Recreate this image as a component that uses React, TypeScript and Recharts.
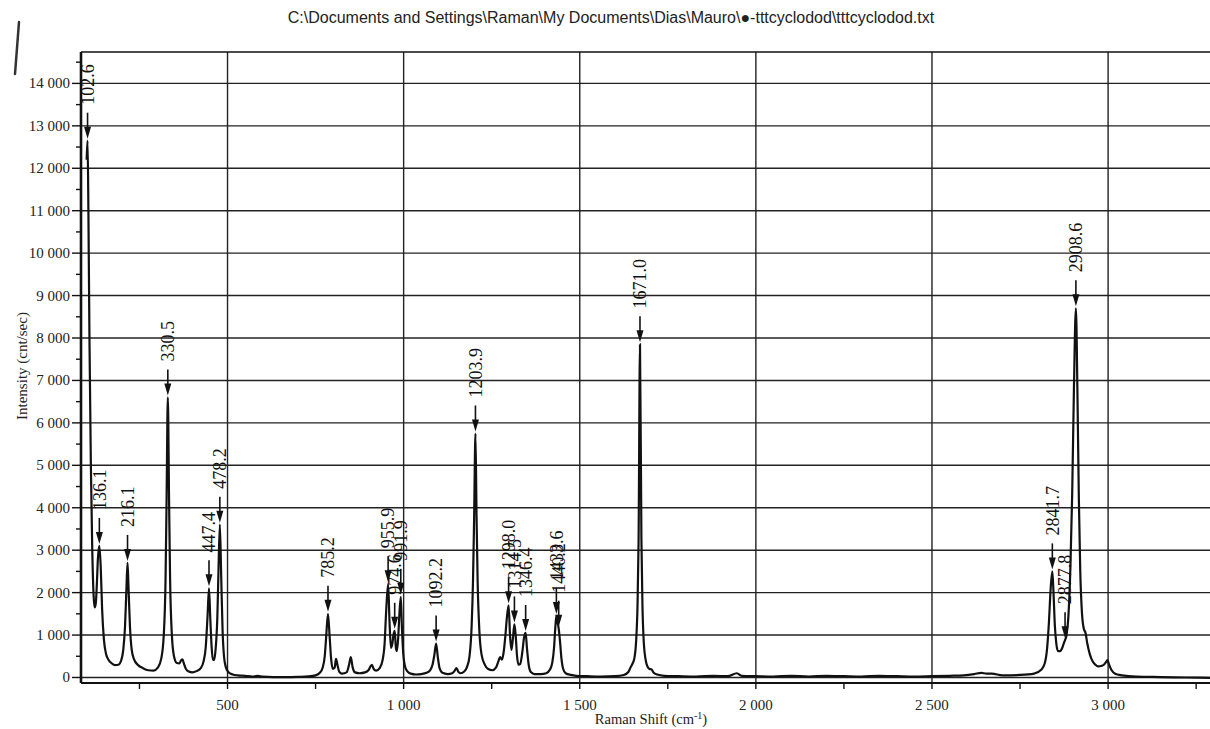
import React from 'react';
import {
  CartesianGrid,
  ComposedChart,
  Line,
  ReferenceLine,
  Scatter,
  XAxis,
  YAxis,
} from 'recharts';

// Raman spectrum (shift in cm-1, intensity in cnt/sec).
const shifts = [
  100, 102.6, 105, 108, 112, 116, 120, 123, 126, 129, 132, 136.1, 140, 144, 149, 155, 162, 170, 180, 190,
  198, 204, 209, 213, 216.1, 219, 223, 228, 235, 245, 260, 275, 290, 302, 312, 319, 324, 327, 330.5, 334,
  337, 342, 348, 356, 363, 368, 372, 376, 382, 390, 400, 412, 424, 432, 438, 443, 447.4, 451, 455, 459,
  462, 466, 471, 474, 478.2, 482, 486, 490, 495, 502, 515, 530, 550, 570, 585, 600, 630, 660, 700, 730,
  750, 762, 770, 776, 780, 785.2, 790, 794, 799, 804, 808, 812, 817, 825, 838, 845, 850, 855, 862, 875,
  890, 900, 906, 910, 915, 922, 932, 940, 946, 950, 955.9, 960, 964, 968, 971, 974.6, 978, 981, 985, 988,
  991.9, 995, 999, 1004, 1010, 1020, 1035, 1050, 1065, 1075, 1082, 1087, 1092.2, 1097, 1102, 1110, 1125, 1138, 1145, 1150,
  1155, 1162, 1172, 1180, 1187, 1193, 1197, 1200, 1203.9, 1207, 1210, 1215, 1221, 1230, 1240, 1252, 1262, 1269, 1274, 1279,
  1284, 1289, 1293, 1298.0, 1302, 1306, 1310, 1314.5, 1318, 1322, 1326, 1331, 1337, 1342, 1346.4, 1350, 1355, 1361, 1372, 1390,
  1405, 1415, 1422, 1427, 1430, 1433.6, 1437, 1440.2, 1444, 1448, 1453, 1460, 1475, 1490, 1520, 1560, 1600, 1625, 1638, 1645,
  1650, 1655, 1660, 1664, 1667, 1671.0, 1675, 1678, 1682, 1687, 1692, 1698, 1704, 1710, 1720, 1740, 1780, 1830, 1880, 1920,
  1946, 1960, 2000, 2050, 2100, 2150, 2200, 2250, 2300, 2350, 2400, 2450, 2500, 2550, 2590, 2620, 2640, 2655, 2670, 2700,
  2750, 2790, 2810, 2820, 2827, 2832, 2837, 2841.7, 2845, 2849, 2853, 2858, 2864, 2870, 2874, 2877.8, 2882, 2887, 2893, 2898,
  2903, 2908.6, 2913, 2917, 2921, 2926, 2931, 2936, 2941, 2948, 2956, 2964, 2972, 2980, 2988, 2994, 2998, 3003, 3010, 3020,
  3040, 3080, 3150, 3220, 3295,
];
const intensities = [
  12200, 12650, 11000, 8000, 5000, 3000, 1900, 1650, 1750, 2200, 2800, 3100, 2600, 1600, 900, 560, 420, 340, 290, 300,
  400, 650, 1200, 2100, 2700, 2100, 1200, 650, 420, 300, 220, 170, 160, 230, 450, 1000, 2300, 4200, 6600, 4200,
  2300, 1000, 500, 340, 330, 400, 430, 330, 200, 140, 120, 150, 220, 380, 700, 1400, 2100, 1400, 700, 420,
  410, 650, 1400, 2400, 3600, 2400, 1100, 500, 250, 130, 70, 50, 40, 20, 40, 20, 10, 10, 15, 25,
  50, 110, 230, 500, 950, 1500, 950, 450, 200, 230, 440, 300, 140, 90, 120, 300, 480, 250, 120, 100,
  120, 170, 260, 300, 200, 160, 220, 400, 800, 1500, 2200, 1300, 700, 800, 1000, 1100, 700, 620, 1000, 1500,
  1900, 1200, 550, 260, 150, 90, 70, 80, 110, 170, 300, 520, 800, 480, 220, 110, 80, 100, 160, 220,
  140, 100, 140, 250, 500, 1200, 2300, 3700, 5750, 3800, 2300, 1100, 550, 310, 200, 170, 230, 380, 480, 420,
  600, 1000, 1400, 1700, 1000, 650, 900, 1250, 1000, 500, 300, 320, 600, 950, 1050, 700, 300, 130, 80, 80,
  100, 180, 350, 700, 1100, 1450, 1300, 1150, 850, 450, 200, 100, 60, 40, 30, 20, 30, 60, 130, 250,
  330, 450, 850, 1700, 3200, 7850, 3300, 1700, 800, 420, 260, 200, 190, 110, 70, 40, 30, 20, 40, 30,
  100, 40, 30, 20, 40, 20, 40, 30, 20, 40, 30, 20, 30, 40, 50, 80, 110, 90, 90, 50,
  60, 90, 180, 330, 700, 1300, 2100, 2500, 2000, 1200, 800, 620, 620, 700, 800, 880, 1000, 1400, 2600, 4300,
  6800, 8700, 6700, 4200, 2500, 1500, 1150, 1050, 800, 550, 380, 300, 260, 270, 300, 360, 410, 300, 170, 90,
  50, 20, 10, 0, -10,
];

// Marked peaks.
const peakShifts = [
  102.6, 136.1, 216.1, 330.5, 447.4, 478.2, 785.2, 955.9, 974.6, 991.9, 1092.2,
  1203.9, 1298.0, 1314.5, 1346.4, 1433.6, 1440.2, 1671.0, 2841.7, 2877.8, 2908.6,
];
const peakHeights = [
  12650, 3100, 2700, 6600, 2100, 3600, 1500, 2200, 1100, 1900, 800,
  5750, 1700, 1250, 1050, 1450, 1150, 7850, 2500, 880, 8700,
];

const xTicks = [250, 500, 750, 1000, 1250, 1500, 1750, 2000, 2250, 2500, 2750, 3000, 3250];
const xMajor = [500, 1000, 1500, 2000, 2500, 3000];
const yTicks = [
  0, 500, 1000, 1500, 2000, 2500, 3000, 3500, 4000, 4500, 5000, 5500, 6000, 6500, 7000,
  7500, 8000, 8500, 9000, 9500, 10000, 10500, 11000, 11500, 12000, 12500, 13000, 13500, 14000, 14500,
];
const yMajor = [0, 1000, 2000, 3000, 4000, 5000, 6000, 7000, 8000, 9000, 10000, 11000, 12000, 13000, 14000];

const xDomain: [number, number] = [84, 3295];
const yDomain: [number, number] = [-130, 14740];

const title = 'C:\\Documents and Settings\\Raman\\My Documents\\Dias\\Mauro\\\u25CF-tttcyclodod\\tttcyclodod.txt';

const ink = '#111';
const gridInk = '#222';
const serif = '"Liberation Serif", "DejaVu Serif", serif';

const spectrum = shifts.map((x, i) => ({ x, y: intensities[i] }));
const peaks = peakShifts.map((x, i) => ({ x, y: peakHeights[i], label: x.toFixed(1) }));

const fmt = (v: number) =>
  v >= 1000 ? `${Math.floor(v / 1000)} ${String(v % 1000).padStart(3, '0')}` : String(v);

function YTick(props: any) {
  const { x, y, payload } = props;
  const v = Number(payload.value);
  const major = v % 1000 === 0;
  return (
    <g>
      <line x1={x - (major ? 9 : 5)} x2={x} y1={y} y2={y} stroke={ink} strokeWidth={1.4} />
      {major ? (
        <text x={x - 11} y={y + 5} textAnchor="end" fontSize={15} fontFamily={serif} fill="#222">
          {fmt(v)}
        </text>
      ) : null}
    </g>
  );
}

function XTick(props: any) {
  const { x, y, payload } = props;
  const v = Number(payload.value);
  const major = v % 500 === 0;
  return (
    <g>
      <line x1={x} x2={x} y1={y} y2={y + 6} stroke={ink} strokeWidth={1.4} />
      {major ? (
        <text x={x} y={y + 27} textAnchor="middle" fontSize={15} fontFamily={serif} fill="#222">
          {fmt(v)}
        </text>
      ) : null}
    </g>
  );
}

function PeakMark(props: any) {
  const { cx, cy, payload } = props;
  const tip = cy - 2;
  return (
    <g>
      <line x1={cx} x2={cx} y1={tip - 26} y2={tip - 10} stroke={ink} strokeWidth={1.6} />
      <polygon points={`${cx - 3.5},${tip - 12} ${cx + 3.5},${tip - 12} ${cx},${tip}`} fill={ink} />
      <text
        x={cx}
        y={tip - 34}
        transform={`rotate(-90, ${cx}, ${tip - 34})`}
        dy="0.35em"
        textAnchor="start"
        fontSize={18}
        fontFamily={serif}
        fill="#111"
      >
        {payload.label}
      </text>
    </g>
  );
}

export default function App() {
  return (
    <div
      style={{
        position: 'absolute',
        left: 0,
        top: 0,
        width: 1210,
        height: 729,
        overflow: 'hidden',
        background: '#fff',
      }}
    >
      <svg width={30} height={90} style={{ position: 'absolute', left: 0, top: 0 }}>
        <path d="M19 22 L15 74" stroke="#333" strokeWidth={2.5} strokeLinecap="round" />
      </svg>
      <div
        style={{
          position: 'absolute',
          left: 611,
          top: 18,
          transform: 'translate(-50%, -50%)',
          whiteSpace: 'nowrap',
          fontFamily: '"Liberation Sans", Arial, sans-serif',
          fontSize: 16,
          color: '#222',
        }}
      >
        {title}
      </div>
      <ComposedChart
        width={1212}
        height={729}
        data={spectrum}
        margin={{ top: 52, right: 0, bottom: 0, left: 0 }}
      >
        <CartesianGrid
          horizontalValues={yMajor}
          verticalValues={xMajor}
          stroke={gridInk}
          strokeWidth={1.4}
        />
        <XAxis
          dataKey="x"
          type="number"
          domain={xDomain}
          ticks={xTicks}
          interval={0}
          allowDataOverflow
          height={46}
          tickSize={0}
          tickMargin={0}
          tickLine={false}
          tick={(p: any) => <XTick {...p} />}
          axisLine={{ stroke: ink, strokeWidth: 2 }}
        />
        <YAxis
          type="number"
          domain={yDomain}
          ticks={yTicks}
          interval={0}
          allowDataOverflow
          width={81}
          tickSize={0}
          tickMargin={0}
          tickLine={false}
          tick={(p: any) => <YTick {...p} />}
          axisLine={{ stroke: ink, strokeWidth: 2.6 }}
        />
        <ReferenceLine y={yDomain[1]} stroke={ink} strokeWidth={1.6} />
        <Line
          dataKey="y"
          type="monotone"
          stroke={ink}
          strokeWidth={2.2}
          dot={false}
          isAnimationActive={false}
        />
        <Scatter data={peaks} dataKey="y" shape={(p: any) => <PeakMark {...p} />} isAnimationActive={false} />
      </ComposedChart>
      <div
        style={{
          position: 'absolute',
          left: 22,
          top: 366,
          transform: 'translate(-50%, -50%) rotate(-90deg)',
          whiteSpace: 'nowrap',
          fontFamily: serif,
          fontSize: 15,
          color: '#222',
        }}
      >
        Intensity (cnt/sec)
      </div>
      <div
        style={{
          position: 'absolute',
          left: 651,
          top: 719,
          transform: 'translate(-50%, -50%)',
          whiteSpace: 'nowrap',
          fontFamily: serif,
          fontSize: 14.5,
          color: '#222',
        }}
      >
        Raman Shift (cm<sup style={{ fontSize: 10 }}>-1</sup>)
      </div>
    </div>
  );
}
